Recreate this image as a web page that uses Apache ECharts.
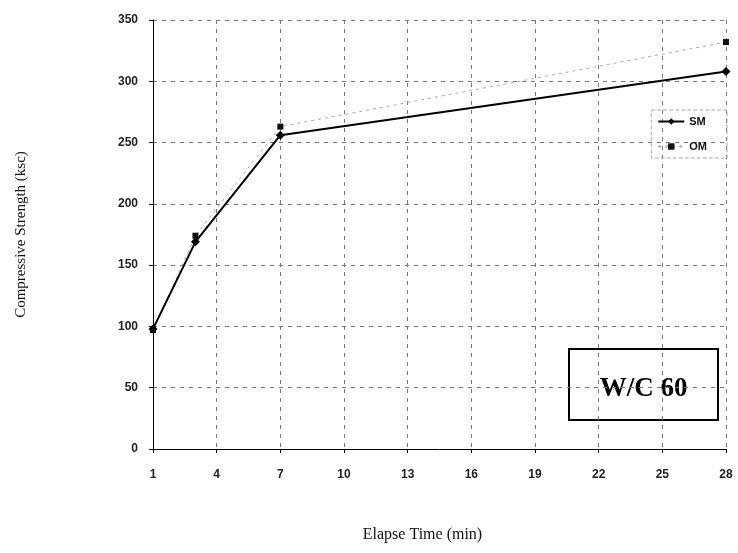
<!DOCTYPE html>
<html><head><meta charset="utf-8">
<script src="https://cdn.jsdelivr.net/npm/echarts@6/dist/echarts.min.js"></script>
<style>html,body{margin:0;padding:0;background:#fff}#c{width:738px;height:553px}</style>
</head><body><div id="c"></div>
<script>
const xTicks = [1, 4, 7, 10, 13, 16, 19, 22, 25, 28];
const times = [1, 3, 7, 28];
const smValues = [98, 169, 256, 308];
const omValues = [97, 174, 263, 332];
const yTicks = [0, 50, 100, 150, 200, 250, 300, 350];

const chart = echarts.init(document.getElementById('c'));
chart.setOption({
  animation: false,
  backgroundColor: '#fff',
  grid: { left: 153, right: 12, top: 20, bottom: 104 },
  xAxis: {
    type: 'value', min: 1, max: 28,
    name: 'Elapse Time (min)', nameLocation: 'middle', nameGap: 78,
    nameTextStyle: { fontFamily: 'Liberation Serif', fontSize: 16, color: '#111', padding: [0, 34, 0, 0] },
    axisLine: { lineStyle: { color: '#000', width: 1 } },
    axisTick: { show: true, length: 4, customValues: xTicks, lineStyle: { color: '#000' } },
    axisLabel: { customValues: xTicks, margin: 20, fontFamily: 'Liberation Sans', fontWeight: 'bold', fontSize: 12, color: '#222' },
    splitLine: { show: true, lineStyle: { color: '#777', type: [4, 5], width: 1 } }
  },
  yAxis: {
    type: 'value', min: yTicks[0], max: yTicks[yTicks.length - 1], interval: 50,
    name: 'Compressive Strength (ksc)', nameLocation: 'middle', nameGap: 124, nameRotate: 90,
    nameTextStyle: { fontFamily: 'Liberation Serif', fontSize: 15, color: '#111' },
    axisLine: { show: true, lineStyle: { color: '#000', width: 1 } },
    axisTick: { show: true, length: 4, lineStyle: { color: '#000' } },
    axisLabel: { margin: 15, fontFamily: 'Liberation Sans', fontWeight: 'bold', fontSize: 12, color: '#222' },
    splitLine: { show: true, lineStyle: { color: '#777', type: [4, 5], width: 1 } }
  },
  legend: {
    right: 11, top: 110, orient: 'vertical', itemGap: 14, itemWidth: 26, itemHeight: 8,
    borderColor: '#aaa', borderWidth: 1, borderType: 'dashed', padding: [6, 20, 6, 6],
    backgroundColor: 'rgba(255,255,255,0)',
    textStyle: { fontFamily: 'Liberation Sans', fontWeight: 'bold', fontSize: 11, color: '#111' },
    data: ['SM', 'OM']
  },
  series: [
    {
      name: 'OM', type: 'line', data: times.map((t, i) => [t, omValues[i]]),
      symbol: 'rect', symbolSize: 6,
      lineStyle: { color: '#aaa', width: 1, type: [3, 4] },
      itemStyle: { color: '#111' }, z: 2
    },
    {
      name: 'SM', type: 'line', data: times.map((t, i) => [t, smValues[i]]),
      symbol: 'diamond', symbolSize: 9,
      lineStyle: { color: '#000', width: 2 },
      itemStyle: { color: '#000' }, z: 3
    }
  ],
  graphic: [{
    type: 'group', left: 568, top: 348,
    children: [
      { type: 'rect', shape: { x: 0, y: 0, width: 149, height: 71 },
        style: { fill: '#fff', stroke: '#000', lineWidth: 2 } },
      { type: 'text', x: 74.5, y: 40,
        style: { text: 'W/C 60', fontFamily: 'Liberation Serif', fontWeight: 'bold', fontSize: 27, fill: '#000', align: 'center', verticalAlign: 'middle' } }
    ]
  }]
});
</script></body></html>
